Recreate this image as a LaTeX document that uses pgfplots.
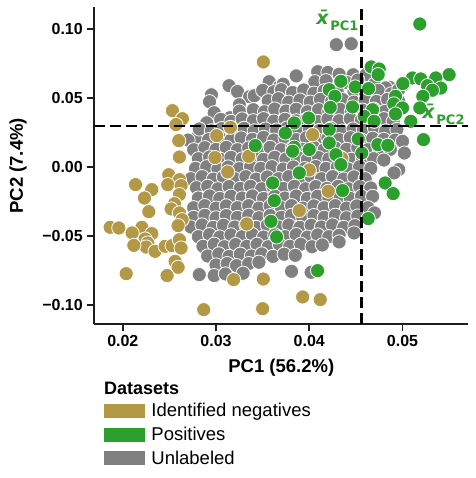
\documentclass[border=0pt]{standalone}
\usepackage{pgfplots}
\pgfplotsset{compat=1.18}
\usepackage{pgfplotstable}
\usepackage{fontspec}
\setmainfont{Liberation Sans}
\newfontfamily\dejavu{DejaVu Sans}
\definecolor{goldc}{RGB}{179,152,69}
\definecolor{greenc}{RGB}{44,160,44}
\definecolor{grayc}{RGB}{128,128,128}
\definecolor{spine}{RGB}{30,30,30}

\pgfplotstableread{
x y
0.0429 0.0886
0.0445 0.0893
0.0386 0.0660
0.0409 0.0690
0.0420 0.0685
0.0432 0.0672
0.0447 0.0668
0.0461 0.0670
0.0357 0.0618
0.0368 0.0582
0.0372 0.0600
0.0406 0.0618
0.0418 0.0625
0.0440 0.0612
0.0452 0.0630
0.0470 0.0600
0.0486 0.0578
0.0500 0.0590
0.0482 0.0573
0.0314 0.0589
0.0323 0.0546
0.0336 0.0509
0.0341 0.0516
0.0350 0.0555
0.0362 0.0545
0.0370 0.0560
0.0382 0.0540
0.0394 0.0558
0.0405 0.0535
0.0416 0.0552
0.0430 0.0545
0.0448 0.0550
0.0460 0.0540
0.0474 0.0555
0.0488 0.0530
0.0496 0.0560
0.0295 0.0523
0.0293 0.0473
0.0325 0.0451
0.0356 0.0480
0.0367 0.0495
0.0378 0.0470
0.0390 0.0485
0.0401 0.0470
0.0412 0.0490
0.0424 0.0475
0.0436 0.0488
0.0448 0.0470
0.0460 0.0485
0.0472 0.0475
0.0484 0.0490
0.0496 0.0478
0.0298 0.0393
0.0315 0.0357
0.0325 0.0405
0.0340 0.0415
0.0352 0.0400
0.0363 0.0420
0.0375 0.0405
0.0386 0.0418
0.0398 0.0400
0.0410 0.0415
0.0421 0.0402
0.0433 0.0418
0.0445 0.0400
0.0457 0.0412
0.0469 0.0420
0.0481 0.0402
0.0493 0.0410
0.0290 0.0320
0.0305 0.0345
0.0316 0.0330
0.0328 0.0348
0.0340 0.0335
0.0351 0.0350
0.0362 0.0332
0.0374 0.0345
0.0386 0.0335
0.0397 0.0345
0.0409 0.0330
0.0420 0.0348
0.0432 0.0335
0.0444 0.0350
0.0456 0.0340
0.0468 0.0335
0.0480 0.0350
0.0490 0.0330
0.0280 0.0218
0.0282 0.0275
0.0295 0.0262
0.0306 0.0278
0.0318 0.0265
0.0330 0.0280
0.0341 0.0262
0.0353 0.0275
0.0365 0.0268
0.0376 0.0282
0.0388 0.0262
0.0400 0.0278
0.0411 0.0265
0.0423 0.0280
0.0435 0.0260
0.0447 0.0275
0.0458 0.0268
0.0470 0.0280
0.0482 0.0262
0.0494 0.0272
0.0270 0.0195
0.0292 0.0198
0.0304 0.0212
0.0316 0.0195
0.0327 0.0210
0.0339 0.0200
0.0351 0.0215
0.0362 0.0195
0.0374 0.0210
0.0386 0.0198
0.0397 0.0212
0.0409 0.0195
0.0420 0.0210
0.0432 0.0198
0.0444 0.0212
0.0456 0.0195
0.0468 0.0208
0.0480 0.0200
0.0492 0.0195
0.0500 0.0186
0.0276 0.0125
0.0288 0.0140
0.0300 0.0128
0.0311 0.0142
0.0323 0.0125
0.0335 0.0138
0.0346 0.0128
0.0358 0.0142
0.0370 0.0125
0.0382 0.0138
0.0393 0.0128
0.0405 0.0142
0.0416 0.0125
0.0428 0.0138
0.0440 0.0128
0.0452 0.0140
0.0463 0.0125
0.0475 0.0135
0.0487 0.0128
0.0502 0.0101
0.0281 0.0060
0.0293 0.0072
0.0305 0.0055
0.0316 0.0070
0.0328 0.0058
0.0340 0.0072
0.0351 0.0055
0.0363 0.0070
0.0375 0.0058
0.0387 0.0072
0.0398 0.0055
0.0410 0.0068
0.0421 0.0058
0.0433 0.0072
0.0445 0.0055
0.0457 0.0068
0.0469 0.0060
0.0480 0.0050
0.0278 -0.0010
0.0290 0.0002
0.0302 -0.0015
0.0313 0.0000
0.0325 -0.0012
0.0337 0.0003
0.0348 -0.0010
0.0360 0.0002
0.0372 -0.0015
0.0383 0.0000
0.0395 -0.0012
0.0407 0.0003
0.0418 -0.0010
0.0430 0.0000
0.0442 -0.0015
0.0454 0.0002
0.0466 -0.0010
0.0496 -0.0019
0.0491 -0.0043
0.0273 -0.0085
0.0285 -0.0070
0.0297 -0.0088
0.0308 -0.0072
0.0320 -0.0085
0.0332 -0.0070
0.0343 -0.0088
0.0355 -0.0072
0.0367 -0.0085
0.0378 -0.0070
0.0390 -0.0088
0.0402 -0.0072
0.0413 -0.0085
0.0425 -0.0070
0.0437 -0.0088
0.0448 -0.0072
0.0460 -0.0085
0.0279 -0.0150
0.0291 -0.0140
0.0302 -0.0158
0.0314 -0.0142
0.0326 -0.0155
0.0337 -0.0140
0.0349 -0.0158
0.0361 -0.0142
0.0372 -0.0155
0.0384 -0.0140
0.0396 -0.0158
0.0407 -0.0142
0.0419 -0.0155
0.0431 -0.0140
0.0442 -0.0158
0.0454 -0.0142
0.0466 -0.0152
0.0281 -0.0225
0.0293 -0.0210
0.0304 -0.0228
0.0316 -0.0212
0.0328 -0.0225
0.0339 -0.0210
0.0351 -0.0228
0.0363 -0.0212
0.0374 -0.0225
0.0386 -0.0210
0.0398 -0.0228
0.0409 -0.0212
0.0421 -0.0225
0.0433 -0.0210
0.0444 -0.0228
0.0456 -0.0212
0.0468 -0.0213
0.0276 -0.0295
0.0288 -0.0280
0.0300 -0.0298
0.0311 -0.0282
0.0323 -0.0295
0.0335 -0.0280
0.0346 -0.0298
0.0358 -0.0282
0.0370 -0.0295
0.0381 -0.0280
0.0393 -0.0298
0.0405 -0.0282
0.0416 -0.0295
0.0428 -0.0280
0.0440 -0.0298
0.0451 -0.0282
0.0463 -0.0295
0.0470 -0.0333
0.0276 -0.0365
0.0288 -0.0350
0.0300 -0.0368
0.0311 -0.0352
0.0323 -0.0365
0.0335 -0.0350
0.0346 -0.0368
0.0358 -0.0352
0.0370 -0.0365
0.0381 -0.0350
0.0393 -0.0368
0.0405 -0.0352
0.0416 -0.0365
0.0428 -0.0350
0.0440 -0.0368
0.0452 -0.0355
0.0273 -0.0435
0.0285 -0.0420
0.0297 -0.0438
0.0308 -0.0422
0.0320 -0.0435
0.0332 -0.0420
0.0343 -0.0438
0.0355 -0.0422
0.0367 -0.0435
0.0378 -0.0420
0.0390 -0.0438
0.0402 -0.0422
0.0413 -0.0435
0.0425 -0.0420
0.0437 -0.0438
0.0449 -0.0425
0.0281 -0.0505
0.0293 -0.0490
0.0304 -0.0508
0.0316 -0.0492
0.0328 -0.0505
0.0339 -0.0490
0.0351 -0.0508
0.0363 -0.0492
0.0374 -0.0505
0.0386 -0.0490
0.0398 -0.0508
0.0409 -0.0492
0.0421 -0.0505
0.0432 -0.0495
0.0448 -0.0478
0.0286 -0.0575
0.0298 -0.0560
0.0309 -0.0578
0.0321 -0.0562
0.0333 -0.0575
0.0344 -0.0560
0.0356 -0.0578
0.0368 -0.0562
0.0379 -0.0575
0.0391 -0.0560
0.0403 -0.0578
0.0414 -0.0565
0.0432 -0.0543
0.0291 -0.0645
0.0303 -0.0630
0.0314 -0.0648
0.0326 -0.0632
0.0338 -0.0645
0.0349 -0.0630
0.0361 -0.0648
0.0373 -0.0632
0.0385 -0.0640
0.0300 -0.0710
0.0312 -0.0700
0.0322 -0.0715
0.0335 -0.0700
0.0346 -0.0690
0.0282 -0.0780
0.0298 -0.0787
0.0310 -0.0775
0.0329 -0.0770
0.0381 -0.0756
0.0402 -0.0763
}\graydata

\pgfplotstableread{
x y
0.03507 0.0761
0.02532 0.0408
0.02639 0.0350
0.02571 0.0307
0.03154 0.0287
0.02600 0.0191
0.03007 0.0227
0.04036 0.0234
0.02607 0.0072
0.02989 0.0068
0.03350 0.0077
0.04350 0.0063
0.03125 -0.0036
0.04000 -0.0022
0.02493 -0.0056
0.02607 -0.0092
0.02482 -0.0128
0.02625 -0.0135
0.02136 -0.0128
0.02311 -0.0164
0.02607 -0.0200
0.02232 -0.0225
0.04204 -0.0176
0.02554 -0.0266
0.02518 -0.0304
0.02607 -0.0333
0.02279 -0.0324
0.03893 -0.0316
0.02636 -0.0382
0.02593 -0.0425
0.03329 -0.0413
0.01864 -0.0437
0.01957 -0.0442
0.02204 -0.0437
0.02100 -0.0478
0.02311 -0.0483
0.02239 -0.0522
0.02268 -0.0551
0.02250 -0.0580
0.02118 -0.0568
0.02346 -0.0611
0.02454 -0.0575
0.02529 -0.0570
0.02607 -0.0527
0.02625 -0.0587
0.02561 -0.0684
0.02593 -0.0727
0.02036 -0.0773
0.02475 -0.0787
0.03189 -0.0816
0.03507 -0.0812
0.03929 -0.0942
0.04118 -0.0961
0.02868 -0.1034
0.03500 -0.1027
}\golddata

\pgfplotstableread{
x y
0.05186 0.1036
0.04664 0.0725
0.04750 0.0710
0.04739 0.0669
0.05500 0.0669
0.05107 0.0645
0.05196 0.0638
0.05357 0.0645
0.04339 0.0621
0.05004 0.0604
0.05268 0.0589
0.04493 0.0580
0.04636 0.0568
0.05411 0.0572
0.05321 0.0556
0.04214 0.0560
0.04275 0.0512
0.04925 0.0512
0.05218 0.0512
0.04907 0.0457
0.04464 0.0435
0.04225 0.0432
0.05000 0.0428
0.04679 0.0415
0.05186 0.0428
0.04925 0.0384
0.03993 0.0355
0.04589 0.0367
0.04696 0.0331
0.05089 0.0331
0.03839 0.0319
0.04214 0.0271
0.03743 0.0246
0.04525 0.0203
0.05225 0.0198
0.03421 0.0155
0.03839 0.0143
0.04000 0.0126
0.03821 0.0114
0.04736 0.0162
0.04843 0.0157
0.04214 0.0174
0.04564 0.0101
0.04286 0.0089
0.04339 0.0017
0.03893 -0.0043
0.03607 -0.0116
0.04814 -0.0116
0.04900 -0.0193
0.04357 -0.0171
0.03625 -0.0244
0.03589 -0.0394
0.04632 -0.0374
0.03650 -0.0507
0.04089 -0.0751
}\greendata

\begin{document}
\begin{tikzpicture}
\useasboundingbox (-94.3bp,-153.7bp) rectangle (381.7bp,324.3bp);
\begin{axis}[
  scale only axis,
  width=374bp, height=317bp,
  xmin=0.01694, xmax=0.05706,
  ymin=-0.1140, ymax=0.1157,
  clip mode=individual,
  scaled x ticks=false, scaled y ticks=false,
  axis x line*=bottom, axis y line*=left,
  axis line style={-, line width=2bp, draw=spine},
  tick align=outside,
  major tick length=7bp,
  tick style={line width=1.8bp, draw=spine},
  xtick={0.02,0.03,0.04,0.05},
  xticklabels={0.02,0.03,0.04,0.05},
  ytick={-0.1,-0.05,0,0.05,0.1},
  yticklabels={−0.10,−0.05,0.00,0.05,0.10},
  tick label style={font=\fontsize{16bp}{19bp}\selectfont\bfseries},
  xticklabel style={yshift=-1bp},
  yticklabel style={xshift=-1bp},
  xlabel={PC1 (56.2\%)},
  ylabel={PC2 (7.4\%)},
  label style={font=\fontsize{18.5bp}{22bp}\selectfont\bfseries},
  xlabel style={at={(axis description cs:0.5,-0.138)}, anchor=center},
  ylabel style={at={(axis description cs:-0.204,0.5)}, anchor=center},
  legend style={at={(axis description cs:0.026,-0.246)}, anchor=north west,
    draw=none, fill=none, inner sep=0pt, outer sep=0pt,
    row sep=6.8bp,
    font=\fontsize{18.5bp}{21bp}\selectfont,
    nodes={inner sep=1bp}},
  legend cell align=left,
]
\addlegendimage{legend image code/.code={\fill[goldc] (0bp,-6.5bp) rectangle (40bp,6.5bp); \path (46bp,0bp);}}
\addlegendentry{Identified negatives}
\addlegendimage{legend image code/.code={\fill[greenc] (0bp,-6.5bp) rectangle (40bp,6.5bp); \path (46bp,0bp);}}
\addlegendentry{Positives}
\addlegendimage{legend image code/.code={\fill[grayc] (0bp,-6.5bp) rectangle (40bp,6.5bp); \path (46bp,0bp);}}
\addlegendentry{Unlabeled}

\addplot[forget plot, only marks, mark=*, mark size=7.1bp,
  mark options={fill=grayc, draw=white, line width=0.8bp}] table[x=x,y=y] {\graydata};
\addplot[forget plot, only marks, mark=*, mark size=7.1bp,
  mark options={fill=goldc, draw=white, line width=0.8bp}] table[x=x,y=y] {\golddata};
\addplot[forget plot, only marks, mark=*, mark size=7.1bp,
  mark options={fill=greenc, draw=white, line width=0.8bp}] table[x=x,y=y] {\greendata};

\addplot[forget plot, black, line width=2.7bp, dash pattern=on 11bp off 5bp] coordinates {(0.04557,-0.1140) (0.04557,0.1157)};
\addplot[forget plot, black, line width=2.7bp, dash pattern=on 11bp off 5bp] coordinates {(0.01694,0.0297) (0.05706,0.0297)};

\node[text=greenc, font=\dejavu\bfseries\fontsize{19bp}{19bp}\selectfont, inner sep=0pt] at (axis cs:0.04302,0.1063)
  {\textit{\=x}\raisebox{-0.28em}{\fontsize{13bp}{13bp}\selectfont PC1}};
\node[text=greenc, font=\dejavu\bfseries\fontsize{19bp}{19bp}\selectfont, inner sep=0pt] at (axis cs:0.05440,0.0382)
  {\textit{\=x}\raisebox{-0.28em}{\fontsize{13bp}{13bp}\selectfont PC2}};

\node[anchor=west, inner sep=0pt, font=\fontsize{18bp}{21bp}\selectfont\bfseries] at (axis description cs:0.026,-0.201) {Datasets};
\end{axis}
\end{tikzpicture}
\end{document}
